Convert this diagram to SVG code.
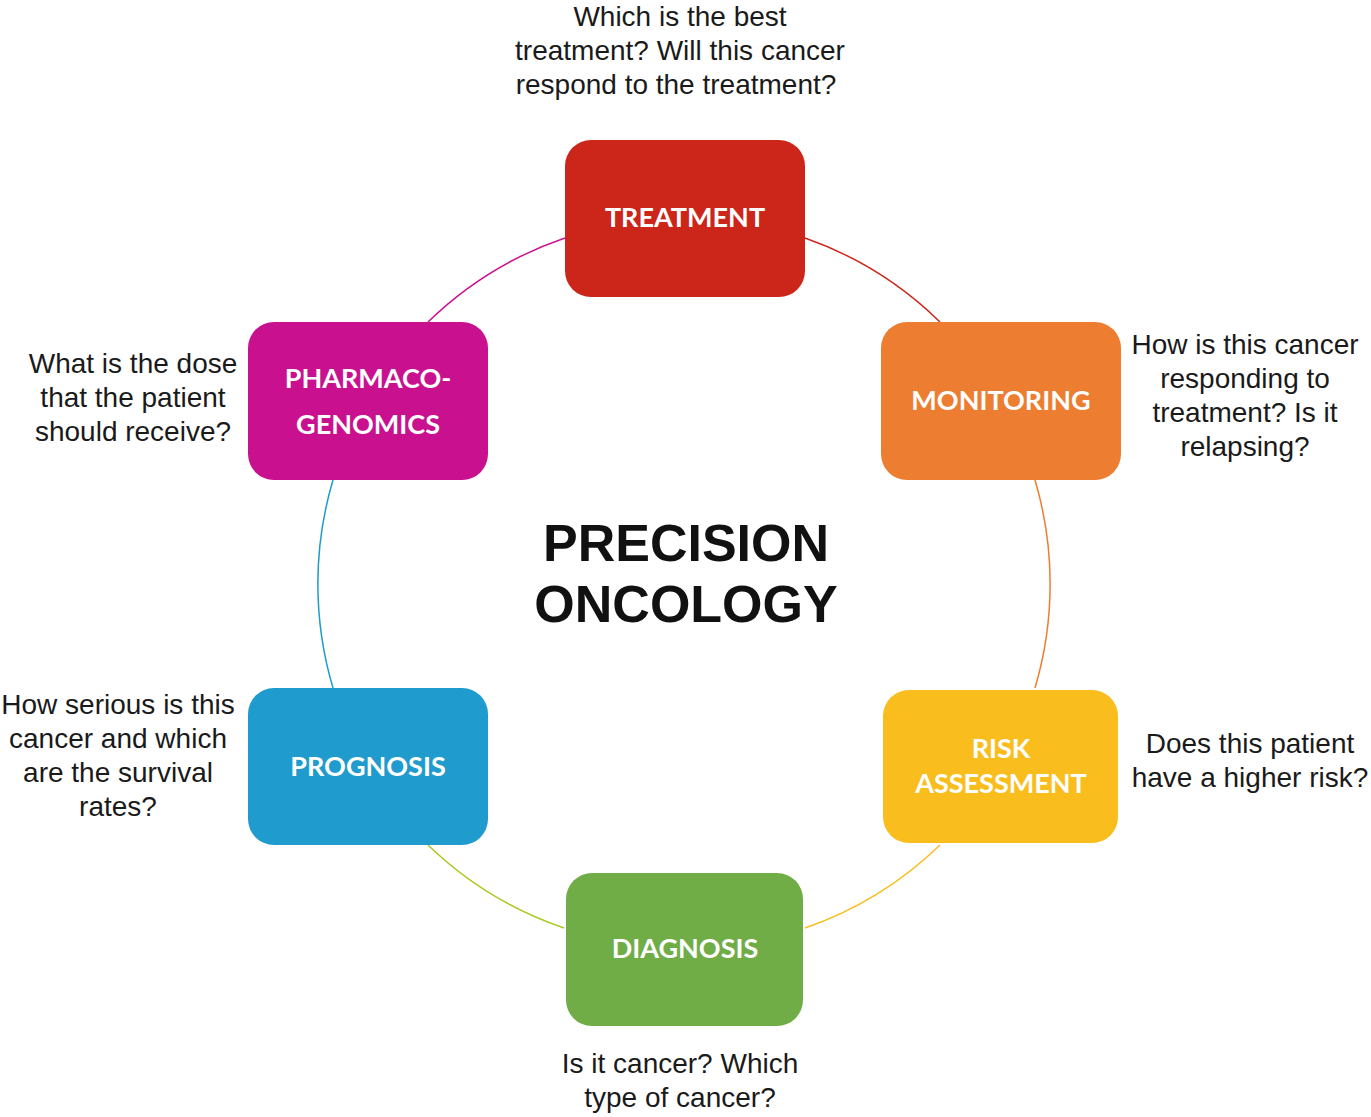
<svg xmlns="http://www.w3.org/2000/svg" width="1371" height="1117" viewBox="0 0 1371 1117">
<style>
.box{stroke:none}
.lbl{font-family:Lato,"Open Sans",sans-serif;font-weight:bold;font-size:27px;fill:#fff;text-anchor:middle}
.q{font-family:"Liberation Sans",Arial,sans-serif;font-size:28px;fill:#1a1a1a;text-anchor:middle}
.title{font-family:"Liberation Sans",Arial,sans-serif;font-weight:bold;font-size:52px;fill:#111;text-anchor:middle}
.arc{fill:none;stroke-width:1.5}
</style>
<rect width="1371" height="1117" fill="#fff"/>
<g id="connectors">
<path class="arc" stroke="#CC2519" d="M805,238 A365,365 0 0 1 940,322"/>
<path class="arc" stroke="#ED7D31" d="M1035,480 A365,365 0 0 1 1035,688"/>
<path class="arc" stroke="#F9BE1E" d="M940,845 A365,365 0 0 1 805,928"/>
<path class="arc" stroke="#A8C91E" d="M564,928 A365,365 0 0 1 428,845"/>
<path class="arc" stroke="#1F9BCD" d="M333,688 A365,365 0 0 1 333,480"/>
<path class="arc" stroke="#C9118F" d="M428,322 A365,365 0 0 1 565,238"/>
</g>
<g id="treatment">
<rect class="box" x="565" y="140" width="240" height="157" rx="26" fill="#CC2519"/>
<text class="lbl" x="685" y="227">TREATMENT</text>
</g>
<g id="monitoring">
<rect class="box" x="881" y="322" width="240" height="158" rx="26" fill="#ED7D31"/>
<text class="lbl" x="1001" y="410">MONITORING</text>
</g>
<g id="risk">
<rect class="box" x="883" y="690" width="235" height="153" rx="26" fill="#F9BE1E"/>
<text class="lbl" x="1001" y="758">RISK</text>
<text class="lbl" x="1001" y="793">ASSESSMENT</text>
</g>
<g id="diagnosis">
<rect class="box" x="566" y="873" width="237" height="153" rx="26" fill="#70AD47"/>
<text class="lbl" x="685" y="958">DIAGNOSIS</text>
</g>
<g id="prognosis">
<rect class="box" x="248" y="688" width="240" height="157" rx="26" fill="#1F9BCD"/>
<text class="lbl" x="368" y="776">PROGNOSIS</text>
</g>
<g id="pharmacogenomics">
<rect class="box" x="248" y="322" width="240" height="158" rx="26" fill="#C9118F"/>
<text class="lbl" x="368" y="388">PHARMACO-</text>
<text class="lbl" x="368" y="434">GENOMICS</text>
</g>
<g id="center">
<text class="title" x="686" y="561">PRECISION</text>
<text class="title" x="686" y="622">ONCOLOGY</text>
</g>
<g id="questions">
<text class="q" x="680" y="26">Which is the best</text>
<text class="q" x="680" y="60">treatment? Will this cancer</text>
<text class="q" x="676" y="94">respond to the treatment?</text>
<text class="q" x="1245" y="354">How is this cancer</text>
<text class="q" x="1245" y="388">responding to</text>
<text class="q" x="1245" y="422">treatment? Is it</text>
<text class="q" x="1245" y="456">relapsing?</text>
<text class="q" x="133" y="373">What is the dose</text>
<text class="q" x="133" y="407">that the patient</text>
<text class="q" x="133" y="441">should receive?</text>
<text class="q" x="118" y="714">How serious is this</text>
<text class="q" x="118" y="748">cancer and which</text>
<text class="q" x="118" y="782">are the survival</text>
<text class="q" x="118" y="816">rates?</text>
<text class="q" x="1250" y="753">Does this patient</text>
<text class="q" x="1250" y="787">have a higher risk?</text>
<text class="q" x="680" y="1073">Is it cancer? Which</text>
<text class="q" x="680" y="1107">type of cancer?</text>
</g>
</svg>
